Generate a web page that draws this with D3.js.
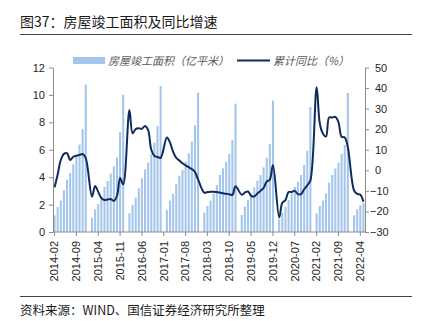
<!DOCTYPE html>
<html><head><meta charset="utf-8">
<script src="https://cdn.jsdelivr.net/npm/d3@7"></script>
<style>
html,body{margin:0;padding:0;background:#fff;}
svg{display:block;}
</style></head>
<body><div id="chart"></div>
<script>
// ---------- DATA ----------
const months = [
"2014-02","2014-03","2014-04","2014-05","2014-06","2014-07","2014-08","2014-09","2014-10","2014-11","2014-12",
"2015-01","2015-02","2015-03","2015-04","2015-05","2015-06","2015-07","2015-08","2015-09","2015-10","2015-11","2015-12",
"2016-01","2016-02","2016-03","2016-04","2016-05","2016-06","2016-07","2016-08","2016-09","2016-10","2016-11","2016-12",
"2017-01","2017-02","2017-03","2017-04","2017-05","2017-06","2017-07","2017-08","2017-09","2017-10","2017-11","2017-12",
"2018-01","2018-02","2018-03","2018-04","2018-05","2018-06","2018-07","2018-08","2018-09","2018-10","2018-11","2018-12",
"2019-01","2019-02","2019-03","2019-04","2019-05","2019-06","2019-07","2019-08","2019-09","2019-10","2019-11","2019-12",
"2020-01","2020-02","2020-03","2020-04","2020-05","2020-06","2020-07","2020-08","2020-09","2020-10","2020-11","2020-12",
"2021-01","2021-02","2021-03","2021-04","2021-05","2021-06","2021-07","2021-08","2021-09","2021-10","2021-11","2021-12",
"2022-01","2022-02","2022-03","2022-04","2022-05"];

// 房屋竣工面积（亿平米），累计值；1月无数据
const area = [
1.21,1.82,2.30,3.04,3.82,4.30,4.94,5.47,6.38,7.50,10.75,
null,1.04,1.65,2.06,2.60,3.28,3.72,4.26,4.79,5.43,7.30,10.00,
null,1.36,1.97,2.50,3.19,3.92,4.57,5.06,5.69,6.52,7.73,10.65,
null,1.60,2.29,2.77,3.50,4.11,4.52,5.13,5.74,6.59,7.80,10.15,
null,1.41,1.90,2.29,2.82,3.43,4.16,4.64,5.13,5.69,6.71,9.36,
null,1.24,1.85,2.33,2.82,3.26,3.74,4.16,4.72,5.42,6.42,9.59,
null,0.93,1.41,1.85,2.33,2.82,3.31,3.67,4.16,4.89,5.93,9.12,
null,1.36,1.90,2.29,2.82,3.60,4.16,4.64,5.06,5.69,6.35,10.14,
null,1.22,1.65,1.95,2.10];

// 累计同比（%）
const yoy = [
-8.3,-2.0,5.0,8.0,8.3,5.0,6.6,7.1,7.5,7.9,5.9,
null,-12.8,-7.6,-10.5,-13.5,-14.4,-14.2,-14.0,-14.9,-12.5,-3.7,-6.9,
null,29.3,18.0,20.0,20.4,20.2,21.6,19.5,10.0,7.0,6.5,6.1,
null,16.0,13.5,9.0,6.0,4.8,3.4,2.4,1.5,0.6,-0.8,-4.4,
null,-10.9,-10.6,-10.4,-10.4,-10.6,-10.8,-11.2,-11.4,-11.6,-12.0,-7.8,
null,-11.9,-10.8,-10.3,-12.4,-12.7,-11.3,-10.0,-8.6,-5.5,-4.5,2.6,
null,-22.9,-15.8,-14.5,-10.6,-10.5,-10.0,-11.6,-11.6,-9.2,-7.3,-4.9,
null,40.4,22.9,17.9,16.4,25.7,25.7,26.0,23.4,16.3,16.0,11.2,
null,-9.8,-11.5,-11.9,-15.3];

const tickLabels = ["2014-02","2014-09","2015-04","2015-11","2016-06","2017-01","2017-08",
"2018-03","2018-10","2019-05","2019-12","2020-07","2021-02","2021-09","2022-04"];
const leftTicks = [0,2,4,6,8,10,12];
const rightTicks = [-30,-20,-10,0,10,20,30,40,50];

const title = "图37：房屋竣工面积及同比增速";
const source = "资料来源：WIND、国信证券经济研究所整理";
const legendBar = "房屋竣工面积（亿平米）";
const legendLine = "累计同比（%）";

// ---------- CHART ----------
(function () {
const W = 426, H = 321;
const pL = 53, pR = 365, pB = 232, pT = 67.5;
const barColor = "#a4c6ea", lineColor = "#0f2b5e", axisColor = "#8c8c8c";
const numFont = "'Liberation Sans', Arial, sans-serif";
const cjkFont = "'Noto Sans CJK SC', sans-serif";

const svg = d3.select("#chart").append("svg").attr("width", W).attr("height", H);
svg.append("rect").attr("width", W).attr("height", H).attr("fill", "#fff");

// title + rules
svg.append("text").attr("x", 20).attr("y", 27).text(title)
  .attr("font-family", cjkFont).attr("font-size", 14).attr("fill", "#1a1a1a");
svg.append("line").attr("x1", 20).attr("x2", 412).attr("y1", 34.5).attr("y2", 34.5)
  .attr("stroke", "#444").attr("stroke-width", 1);
svg.append("line").attr("x1", 20).attr("x2", 412).attr("y1", 296.5).attr("y2", 296.5)
  .attr("stroke", "#444").attr("stroke-width", 1);
svg.append("text").attr("x", 20).attr("y", 315).text(source)
  .attr("font-family", cjkFont).attr("font-size", 12.5).attr("fill", "#1a1a1a");

const x = d3.scaleBand().domain(months).range([pL, pR]).paddingInner(0.34).paddingOuter(0.17);
const yL = d3.scaleLinear().domain([0, 12]).range([pB, pT]);
const yR = d3.scaleLinear().domain([-30, 50]).range([pB, pT]);

// bars
const barData = months.map((m, i) => ({m, v: area[i]})).filter(d => d.v != null);
svg.append("g").selectAll("rect").data(barData).join("rect")
  .attr("x", d => x(d.m)).attr("width", x.bandwidth())
  .attr("y", d => yL(d.v)).attr("height", d => pB - yL(d.v))
  .attr("fill", barColor);

// line
const lineData = months.map((m, i) => ({m, v: yoy[i]})).filter(d => d.v != null);
const line = d3.line().x(d => x(d.m) + x.bandwidth() / 2).y(d => yR(d.v))
  .curve(d3.curveCatmullRom.alpha(0.5));
svg.append("path").datum(lineData).attr("d", line)
  .attr("fill", "none").attr("stroke", lineColor).attr("stroke-width", 2)
  .attr("stroke-linejoin", "round");

// left axis
const gL = svg.append("g").attr("transform", `translate(${pL},0)`)
  .call(d3.axisLeft(yL).tickValues(leftTicks).tickSize(4).tickSizeOuter(0).tickPadding(4));
gL.selectAll("path,line").attr("stroke", axisColor);
gL.selectAll("text").attr("font-family", numFont).attr("font-size", 11).attr("fill", "#262626");

// right axis
const gR = svg.append("g").attr("transform", `translate(${pR},0)`)
  .call(d3.axisRight(yR).tickValues(rightTicks).tickSize(4).tickSizeOuter(0).tickPadding(6));
gR.selectAll("path,line").attr("stroke", axisColor);
gR.selectAll("text").attr("font-family", numFont).attr("font-size", 11).attr("fill", "#262626")
  .attr("x", d => d < 0 ? 5 : 10);

// bottom axis
const gB = svg.append("g").attr("transform", `translate(0,${pB})`)
  .call(d3.axisBottom(x).tickValues(tickLabels).tickSize(4).tickSizeOuter(0).tickPadding(6));
gB.select(".domain").attr("d", `M${pL},0H${pR}`).attr("stroke", axisColor);
gB.selectAll("line").attr("stroke", axisColor);
gB.selectAll("text").attr("font-family", numFont).attr("font-size", 11).attr("fill", "#262626")
  .attr("transform", "rotate(-90)").attr("text-anchor", "end")
  .attr("x", -9).attr("y", 0).attr("dy", "0.35em");

// legend
svg.append("rect").attr("x", 73).attr("y", 57).attr("width", 32).attr("height", 7).attr("fill", barColor);
svg.append("text").attr("x", 108).attr("y", 64.5).text(legendBar)
  .attr("font-family", cjkFont).attr("font-size", 11).attr("font-style", "italic").attr("fill", "#595959");
svg.append("line").attr("x1", 237).attr("x2", 270).attr("y1", 60.5).attr("y2", 60.5)
  .attr("stroke", lineColor).attr("stroke-width", 2);
svg.append("text").attr("x", 273).attr("y", 64.5).text(legendLine)
  .attr("font-family", cjkFont).attr("font-size", 11).attr("font-style", "italic").attr("fill", "#595959");
})();
</script></body></html>
